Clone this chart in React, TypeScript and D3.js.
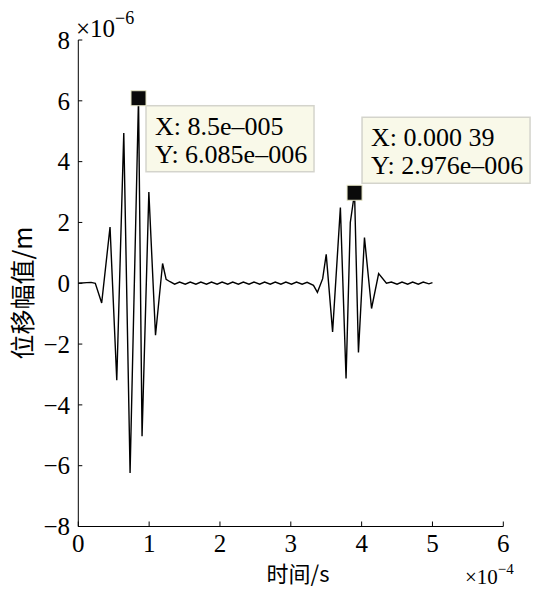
import React from "react";
import * as d3 from "d3";

// time in units of 1e-4 s
const timeVals = [
  0, 0.12, 0.18, 0.24, 0.33, 0.448, 0.543, 0.642, 0.731, 0.85, 0.90, 0.996, 1.09, 1.19, 1.24, 1.295,
  1.36, 1.43, 1.51, 1.58, 1.66, 1.73, 1.81, 1.88, 1.96, 2.03, 2.11, 2.18, 2.26, 2.33, 2.41, 2.48,
  2.56, 2.63, 2.71, 2.78, 2.86, 2.93, 3.01, 3.08, 3.16, 3.23, 3.32, 3.376, 3.45, 3.50, 3.59, 3.70,
  3.78, 3.84, 3.90, 3.955, 4.04, 4.14, 4.24, 4.35, 4.42, 4.50, 4.57, 4.65, 4.72, 4.80, 4.87, 4.95, 5.0,
];
// displacement in units of 1e-6 m
const dispVals = [
  0, 0.02, 0.03, 0.0, -0.65, 1.85, -3.19, 4.94, -6.24, 6.085, -5.03, 3.0, -1.71, 0.65, 0.13, 0.05,
  -0.03, 0.04, -0.03, 0.04, -0.03, 0.04, -0.03, 0.04, -0.03, 0.04, -0.03, 0.04, -0.03, 0.04, -0.03, 0.04,
  -0.03, 0.04, -0.03, 0.04, -0.03, 0.04, -0.03, 0.04, -0.03, 0.03, -0.07, -0.3, 0.15, 0.95, -1.6, 2.49,
  -3.13, 2.0, 2.976, -2.28, 1.5, -0.83, 0.32, 0.0, 0.04, -0.03, 0.04, -0.03, 0.04, -0.03, 0.04, -0.02, 0.02,
];

const xTickVals = [0, 1, 2, 3, 4, 5, 6];
const yTickVals = [-8, -6, -4, -2, 0, 2, 4, 6, 8];

const tipPoints = [
  { t: 0.85, v: 6.085, lines: ["X: 8.5e\u2013005", "Y: 6.085e\u2013006"], side: "below" },
  { t: 3.9, v: 2.976, lines: ["X: 0.000 39", "Y: 2.976e\u2013006"], side: "above" },
];

const W = 533;
const H = 589;
const SERIF = "Liberation Serif, Times New Roman, DejaVu Serif, serif";
const CJK = "Noto Sans CJK SC, sans-serif";

export default function App() {
  const x = d3.scaleLinear().domain([0, 6]).range([78.3, 503.3]);
  const y = d3.scaleLinear().domain([-8, 8]).range([526.5, 40]);
  const data = timeVals.map((t, i) => ({ t, v: dispVals[i] }));
  const line = d3
    .line<{ t: number; v: number }>()
    .x((d) => x(d.t))
    .y((d) => y(d.v));
  const fmt = (n: number) => (n < 0 ? "\u2212" + Math.abs(n) : String(n));
  const x0 = x(0);
  const yb = y(-8);
  const boxW = 168;
  const boxH = 66;
  const sq = 15;

  return (
    <svg
      width={W}
      height={H}
      style={{ position: "absolute", left: 0, top: 0, background: "#fff" }}
    >
      <rect x={0} y={0} width={W} height={H} fill="#fff" />
      {/* axes */}
      <line x1={x0} x2={x0} y1={y(8)} y2={yb} stroke="#000" strokeWidth={1} />
      <line x1={x0} x2={x(6)} y1={yb} y2={yb} stroke="#000" strokeWidth={1} />
      {yTickVals.map((v) => (
        <g key={"y" + v}>
          <line x1={x0} x2={x0 + 4} y1={y(v)} y2={y(v)} stroke="#000" />
          <text
            x={70}
            y={y(v)}
            dy="0.35em"
            textAnchor="end"
            style={{ fontFamily: SERIF }}
            fontSize={25}
          >
            {fmt(v)}
          </text>
        </g>
      ))}
      {xTickVals.map((t) => (
        <g key={"x" + t}>
          <line x1={x(t)} x2={x(t)} y1={yb} y2={yb - 5} stroke="#000" />
          <text
            x={x(t)}
            y={552}
            textAnchor="middle"
            style={{ fontFamily: SERIF }}
            fontSize={25}
          >
            {fmt(t)}
          </text>
        </g>
      ))}
      {/* exponent labels */}
      <text x={76} y={37} style={{ fontFamily: SERIF }} fontSize={25}>
        {"\u00d710"}
        <tspan dy={-13} fontSize={18}>{"\u22126"}</tspan>
      </text>
      <text x={465} y={584} style={{ fontFamily: SERIF }} fontSize={21}>
        {"\u00d710"}
        <tspan dy={-10} fontSize={15}>{"\u22124"}</tspan>
      </text>
      {/* axis titles */}
      <text x={298} y={582} textAnchor="middle" style={{ fontFamily: CJK }} fontSize={22}>
        时间/s
      </text>
      <text
        transform={`translate(32,293) rotate(-90)`}
        textAnchor="middle"
        style={{ fontFamily: CJK }}
        fontSize={25}
      >
        位移幅值/m
      </text>
      {/* waveform */}
      <path d={line(data) || ""} fill="none" stroke="#000" strokeWidth={1.4} />
      {/* data tips */}
      {tipPoints.map((p, i) => {
        const px = x(p.t);
        const py = y(p.v);
        const bx = px + sq / 2;
        const by = p.side === "below" ? py + sq / 2 : py - sq / 2 - boxH - 2;
        return (
          <g key={"tip" + i}>
            <rect
              x={bx}
              y={by}
              width={boxW}
              height={boxH}
              fill="#f9f9e9"
              stroke="#d4d4cc"
              strokeWidth={1.5}
            />
            {p.lines.map((s, j) => (
              <text
                key={j}
                x={bx + 9}
                y={by + 29 + j * 28}
                style={{ fontFamily: SERIF }}
                fontSize={26}
              >
                {s}
              </text>
            ))}
            <rect
              x={px - sq / 2}
              y={py - sq / 2}
              width={sq}
              height={sq}
              fill="#0a0a0a"
              stroke="#e8e8c8"
              strokeWidth={1}
            />
          </g>
        );
      })}
    </svg>
  );
}
